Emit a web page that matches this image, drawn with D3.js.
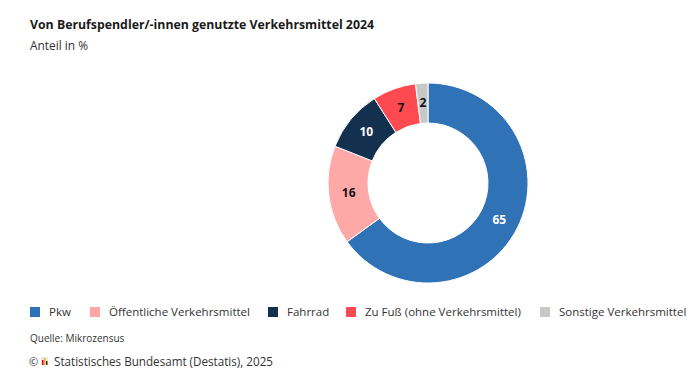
<!DOCTYPE html>
<html><head><meta charset="utf-8">
<script src="https://cdn.jsdelivr.net/npm/d3@7"></script>
<style>
body{margin:0;background:#fff;}
svg{display:block;font-family:"Source Sans Pro","Open Sans","Noto Sans",sans-serif;}
</style></head>
<body>
<svg id="chart" width="700" height="380"></svg>
<script>
const categories = ["Pkw","Öffentliche Verkehrsmittel","Fahrrad","Zu Fuß (ohne Verkehrsmittel)","Sonstige Verkehrsmittel"];
const values = [65,16,10,7,2];
const colors = ["#2f72b6","#ffa8a8","#14304f","#ff4a52","#c8c8c8"];
const labelColors = ["#ffffff","#111111","#ffffff","#111111","#111111"];

const svg = d3.select("#chart");

svg.append("text").attr("x",30).attr("y",29).attr("font-size",13).attr("font-weight",700)
  .attr("fill","#1a1a1a").attr("textLength",344).attr("lengthAdjust","spacingAndGlyphs")
  .text("Von Berufspendler/-innen genutzte Verkehrsmittel 2024");
svg.append("text").attr("x",30).attr("y",50).attr("font-size",12).attr("fill","#333")
  .attr("textLength",58).attr("lengthAdjust","spacingAndGlyphs")
  .text("Anteil in %");

const data = categories.map((c,i)=>({cat:c,value:values[i],color:colors[i],lc:labelColors[i]}));
const pie = d3.pie().value(d=>d.value).sort(null);
const outerR = 100, innerR = 60;
const arc = d3.arc().innerRadius(innerR).outerRadius(outerR);
const g = svg.append("g").attr("transform","translate(428,183)");
const arcs = pie(data);
g.selectAll("path").data(arcs).join("path").attr("d",arc).attr("fill",d=>d.data.color)
  .attr("stroke","#fff").attr("stroke-width",1);
g.selectAll("text").data(arcs).join("text")
  .attr("transform",d=>`translate(${arc.centroid(d)})`)
  .attr("text-anchor","middle").attr("dy","0.35em")
  .attr("font-size",12).attr("font-weight",700)
  .attr("fill",d=>d.data.lc).text(d=>d.data.value);

// legend
const legendX = [30,90,268,346,540];
const lg = svg.append("g");
data.forEach((d,i)=>{
  lg.append("rect").attr("x",legendX[i]).attr("y",307).attr("width",10).attr("height",10).attr("fill",d.color);
  lg.append("text").attr("x",legendX[i]+19).attr("y",316).attr("font-size",11.5).attr("fill","#333").text(d.cat);
});

svg.append("text").attr("x",30).attr("y",342).attr("font-size",10).attr("fill","#333").text("Quelle: Mikrozensus");
// copyright + small logo
svg.append("text").attr("x",29).attr("y",366).attr("font-size",11).attr("fill","#333").text("©");
const logo = svg.append("g").attr("transform","translate(41,357)");
logo.append("rect").attr("x",0).attr("y",0).attr("width",7).attr("height",8).attr("fill","#e8e8e8");
logo.append("rect").attr("x",1).attr("y",3).attr("width",1.5).attr("height",5).attr("fill","#e0001b");
logo.append("rect").attr("x",3).attr("y",1).attr("width",1.5).attr("height",7).attr("fill","#f2b600");
logo.append("rect").attr("x",5).attr("y",4).attr("width",1.5).attr("height",4).attr("fill","#333");
svg.append("text").attr("x",54).attr("y",366).attr("font-size",12).attr("fill","#333")
  .attr("textLength",219).attr("lengthAdjust","spacingAndGlyphs")
  .text("Statistisches Bundesamt (Destatis), 2025");
</script>
</body></html>
